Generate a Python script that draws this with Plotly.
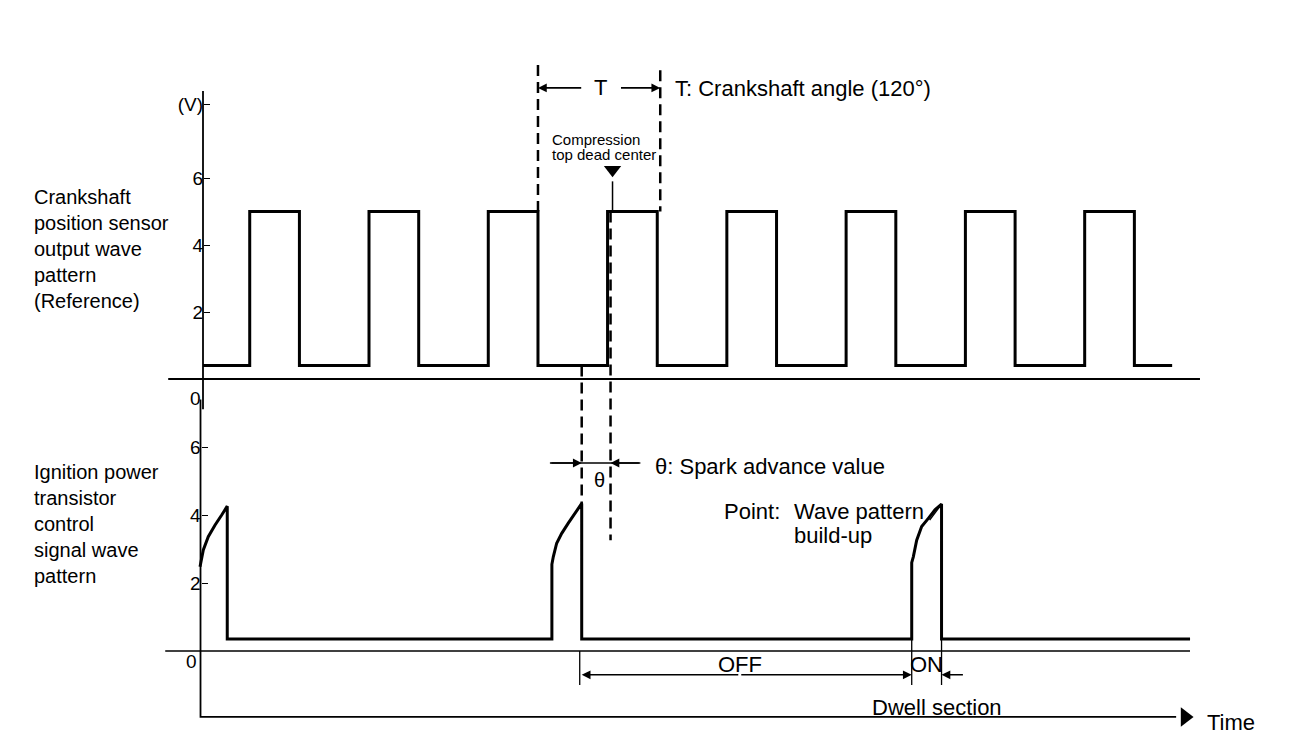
import plotly.graph_objects as go

# ---------------- data (x: crank angle in degrees, y: volts) ----------------
# Crankshaft position sensor (reference) square wave
sensor_rise = [47, 167, 287, 407, 527, 647, 767, 887]
sensor_fall = [97, 217, 337, 457, 577, 697, 817, 937]
sensor_start, sensor_end = 0, 975
sensor_low, sensor_high = 0.4, 5.0

# Ignition power transistor control signal (three build-up pulses)
ign_low = 0.35
pulse1_x = [-3, 0.3, 5.3, 12, 18.8, 24.4]
pulse1_v = [2.48, 2.97, 3.36, 3.70, 4.00, 4.26]
pulse2_x = [351, 352.4, 355.8, 360.9, 367.5, 374.2, 381]
pulse2_v = [2.55, 2.77, 3.17, 3.46, 3.76, 4.05, 4.34]
pulse3_x = [713, 714.6, 718, 723, 729.7, 736.4, 743]
pulse3_v = [2.60, 2.77, 3.26, 3.66, 3.90, 4.15, 4.32]
ign_end = 993

ticks_v = [2, 4, 6]
tdc_angle = 410          # compression top dead center
spark_angle = 381        # ignition (spark) point
t_start, t_end = 337, 460

top_label = ["Crankshaft", "position sensor", "output wave", "pattern", "(Reference)"]
bottom_label = ["Ignition power", "transistor", "control", "signal wave", "pattern"]

# ---------------- layout constants (pixel mapping) ----------------
W, H = 1312, 748
X0_PX, PX_PER_DEG = 203, 0.994
TOP_ZERO_PX, TOP_PX_PER_V = 379, 33.5
BOT_ZERO_PX, BOT_PX_PER_V = 651, 34.0

def top_to_bot(v):
    return (BOT_ZERO_PX - (TOP_ZERO_PX - TOP_PX_PER_V * v)) / BOT_PX_PER_V

FONT = "Liberation Sans, Arial, Helvetica, sans-serif"
BLACK = "#000000"

# build waveform paths
sx, sv = [sensor_start], [sensor_low]
for r, f in zip(sensor_rise, sensor_fall):
    sx += [r, r, f, f]
    sv += [sensor_low, sensor_high, sensor_high, sensor_low]
sx.append(sensor_end)
sv.append(sensor_low)

ix, iv = [], []
ix += pulse1_x + [pulse1_x[-1]]
iv += pulse1_v + [ign_low]
for px_, pv_ in ((pulse2_x, pulse2_v), (pulse3_x, pulse3_v)):
    ix += [px_[0]] + px_ + [px_[-1]]
    iv += [ign_low] + pv_ + [ign_low]
ix.append(ign_end)
iv.append(ign_low)

fig = go.Figure()

def line(x, y, axis="y", width=2, dash="solid", color=BLACK):
    fig.add_trace(go.Scatter(x=x, y=y, mode="lines", yaxis=axis, hoverinfo="skip",
                             line=dict(color=color, width=width, dash=dash),
                             showlegend=False))

DASH = "11px,6px"

# axes lines
line([0, 0], [8.6, -0.9], "y", 1.8)
line([-35, 1003], [0, 0], "y", 1.8)
line([-2.5, -2.5, 979], [7.4, -1.94, -1.94], "y2", 1.8)
line([-38, 993], [0, 0], "y2", 1.5)
fig.add_trace(go.Scatter(x=[988], y=[-1.94], yaxis="y2", mode="markers", hoverinfo="skip",
                         marker=dict(symbol="triangle-right", size=17, color=BLACK),
                         showlegend=False))

# waveforms
line(sx, sv, "y", 3)
line(ix, iv, "y2", 3)

# dashed guide lines
line([t_start, t_start], [9.37, sensor_high], "y", 2.5, DASH)
line([t_end, t_end], [9.22, sensor_high], "y", 2.5, DASH)
line([tdc_angle, tdc_angle], [top_to_bot(sensor_high), 3.26], "y2", 2.5, DASH)
line([spark_angle, spark_angle], [top_to_bot(sensor_low), 4.3], "y2", 2.5, DASH)
line([tdc_angle + 2, tdc_angle + 2], [5.9, sensor_high], "y", 1.5)
fig.add_trace(go.Scatter(x=[tdc_angle + 2], y=[6.25], mode="markers", hoverinfo="skip",
                         marker=dict(symbol="triangle-down", size=15, color=BLACK),
                         showlegend=False))

# OFF / ON markers
line([379, 379], [0, -1.0], "y2", 1.3)
line([713, 713], [ign_low, -1.0], "y2", 1.3)
line([743, 743], [ign_low, -1.0], "y2", 1.3)
# leader line for build-up point
line([731, 743], [3.85, 4.32], "y2", 1.5)

ann = []

def arrow(hx, hy, tx, ty, yref="y"):
    ann.append(dict(x=hx, y=hy, ax=tx, ay=ty, xref="x", yref=yref, axref="x", ayref=yref,
                    text="", showarrow=True, arrowhead=2, arrowsize=1.1, arrowwidth=1.6,
                    arrowcolor=BLACK, standoff=0, startstandoff=0))

def text(x, y, s, yref="y", size=22, xanchor="left"):
    ann.append(dict(x=x, y=y, xref="x", yref=yref, text=s, showarrow=False,
                    xanchor=xanchor, yanchor="middle", align="left",
                    font=dict(family=FONT, size=size, color=BLACK)))

# T dimension
arrow(t_start, 8.69, 382, 8.69)
arrow(t_end, 8.69, 419, 8.69)
text(400, 8.69, "T", xanchor="center")
text(473, 8.66, "T: Crankshaft angle (120°)")
text(349, 7.16, "Compression", size=15)
text(349, 6.69, "top dead center", size=15)

# theta
arrow(spark_angle, 5.53, 349, 5.53, "y2")
arrow(tdc_angle, 5.53, 440, 5.53, "y2")
line([349, 440], [5.53, 5.53], "y2", 1.5)
text(399, 5.03, "θ", "y2", size=20, xanchor="center")
text(453, 5.44, "θ: Spark advance value", "y2")

# point
text(522, 4.09, "Point:", "y2")
text(592.5, 4.09, "Wave pattern", "y2")
text(592.5, 3.41, "build-up", "y2")

# OFF/ON dwell
arrow(381, -0.7, 540, -0.7, "y2")
arrow(713, -0.7, 540, -0.7, "y2")
arrow(743, -0.7, 766, -0.7, "y2")
text(540, -0.41, "OFF", "y2", xanchor="center")
text(728, -0.41, "ON", "y2", xanchor="center")
text(671, -1.65, "Dwell section", "y2")
text(1008, -2.09, "Time", "y2")

# left labels (multi-line blocks)
text(-172, 3.88, "<br>".join(top_label), "y", size=20)
text(-172, 3.74, "<br>".join(bottom_label), "y2", size=20)

# zero labels (placed below the baselines as in the original)
text(-8, -0.57, "0", "y", size=19, xanchor="center")
text(-12, -0.32, "0", "y2", size=19, xanchor="center")

fig.update_layout(
    width=W, height=H,
    margin=dict(l=0, r=0, t=0, b=0),
    paper_bgcolor="white", plot_bgcolor="white",
    showlegend=False,
    annotations=ann,
    xaxis=dict(range=[-X0_PX / PX_PER_DEG, (W - X0_PX) / PX_PER_DEG], visible=False,
               domain=[0, 1], fixedrange=True),
    yaxis=dict(range=[(TOP_ZERO_PX - H) / TOP_PX_PER_V, TOP_ZERO_PX / TOP_PX_PER_V],
               domain=[0, 1], anchor="free", position=X0_PX / W,
               tickvals=ticks_v + [8.2], ticktext=[str(v) for v in ticks_v] + ["(V)"],
               ticks="inside", ticklen=6, tickwidth=1.3, tickcolor=BLACK,
               showgrid=False, zeroline=False, showline=False, fixedrange=True,
               tickfont=dict(family=FONT, size=19, color=BLACK)),
    yaxis2=dict(range=[(BOT_ZERO_PX - H) / BOT_PX_PER_V, BOT_ZERO_PX / BOT_PX_PER_V],
                domain=[0, 1], anchor="free", position=(X0_PX - 2.5) / W, overlaying="y",
                tickvals=ticks_v, ticktext=[str(v) for v in ticks_v],
                ticks="inside", ticklen=6, tickwidth=1.3, tickcolor=BLACK,
                showgrid=False, zeroline=False, showline=False, fixedrange=True,
                tickfont=dict(family=FONT, size=19, color=BLACK)),
)

fig.write_html("out.html", config={"displayModeBar": False},
               post_script="document.body.style.margin='0';")
